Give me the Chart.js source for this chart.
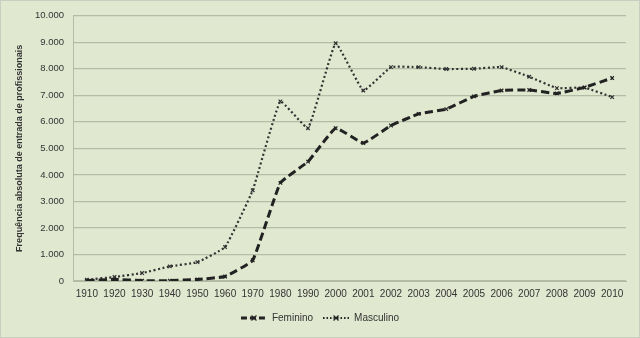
<!DOCTYPE html>
<html><head><meta charset="utf-8">
<script src="https://cdn.jsdelivr.net/npm/chart.js@4"></script>
<style>
html,body{margin:0;padding:0;background:#fff;}
#wrap{width:640px;height:338px;position:relative;background:#e1e8d0;box-sizing:border-box;border:1px solid #c9cfc0;}
canvas{display:block;}
</style></head><body>
<div id="wrap"><canvas id="c" width="638" height="336"></canvas></div>
<script>
const categories = ['1910','1920','1930','1940','1950','1960','1970','1980','1990','2000','2001','2002','2003','2004','2005','2006','2007','2008','2009','2010'];
const feminino = [20,60,15,15,60,170,780,3700,4500,5760,5200,5860,6300,6480,6960,7180,7200,7070,7300,7650];
const masculino = [50,150,300,550,710,1280,3420,6770,5760,8960,7180,8060,8060,7990,8000,8060,7700,7270,7290,6930];
const yTicksMax = 10000;
const yStep = 1000;
const yTitle = 'Frequência absoluta de entrada de profissionais';

function legendIcon(dash, lw){
  const cv=document.createElement('canvas'); cv.width=26; cv.height=10;
  const x=cv.getContext('2d');
  x.strokeStyle='#222'; x.lineWidth=lw; x.setLineDash(dash);
  x.beginPath(); x.moveTo(0,5); x.lineTo(26,5); x.stroke();
  x.setLineDash([]); x.lineWidth=1.2;
  x.beginPath(); x.moveTo(10.5,2.5); x.lineTo(15.5,7.5); x.moveTo(15.5,2.5); x.lineTo(10.5,7.5); x.stroke();
  return cv;
}
const fmt = v => String(v).replace(/\B(?=(\d{3})+(?!\d))/g,'.');
const fam = '"Liberation Sans", Arial, sans-serif';
new Chart(document.getElementById('c'),{
  type:'line',
  data:{labels:categories,datasets:[
    {label:'Feminino',data:feminino,borderColor:'#222',backgroundColor:'#222',borderWidth:3,borderDash:[8,4],
     pointStyle:'crossRot',pointRadius:2.5,pointBorderWidth:1.2,tension:0.1,fill:false},
    {label:'Masculino',data:masculino,borderColor:'#333',backgroundColor:'#333',borderWidth:2.2,borderDash:[2,2.5],
     pointStyle:'crossRot',pointRadius:2.5,pointBorderWidth:1.2,tension:0.1,fill:false}
  ]},
  options:{
    responsive:false,animation:false,
    layout:{padding:{left:13,right:13,top:10,bottom:4}},
    plugins:{
      tooltip:{enabled:false},
      legend:{position:'bottom',labels:{font:{family:fam,size:10},color:'#333',usePointStyle:true,pointStyleWidth:26,boxHeight:10,padding:10,
        generateLabels:(ch)=>ch.data.datasets.map((d,i)=>({text:d.label,pointStyle:i===0?legendIcon([6,3],2.8):legendIcon([1.5,2],2),
          fontColor:'#333',datasetIndex:i,hidden:false,lineWidth:0,strokeStyle:'transparent',fillStyle:'transparent'}))}}
    },
    scales:{
      x:{offset:true,grid:{display:false,drawTicks:false},border:{display:true,color:'#b3baa3',width:1},
        ticks:{font:{family:fam,size:10},color:'#333',maxRotation:0,autoSkip:false,padding:7},
        afterFit:s=>{s.height=22;}},
      y:{min:0,max:yTicksMax,
        ticks:{stepSize:yStep,font:{family:fam,size:9.5},color:'#333',padding:9,callback:v=>fmt(v)},
        grid:{color:'#b5bca6',lineWidth:1.3,drawTicks:false},
        border:{display:true,color:'#b5bca6',width:1},
        title:{display:true,text:yTitle,font:{family:fam,size:9,weight:'bold'},color:'#333',padding:{top:0,bottom:2}},
        afterFit:s=>{s.width=59;}}
    }
  }
});
</script></body></html>
